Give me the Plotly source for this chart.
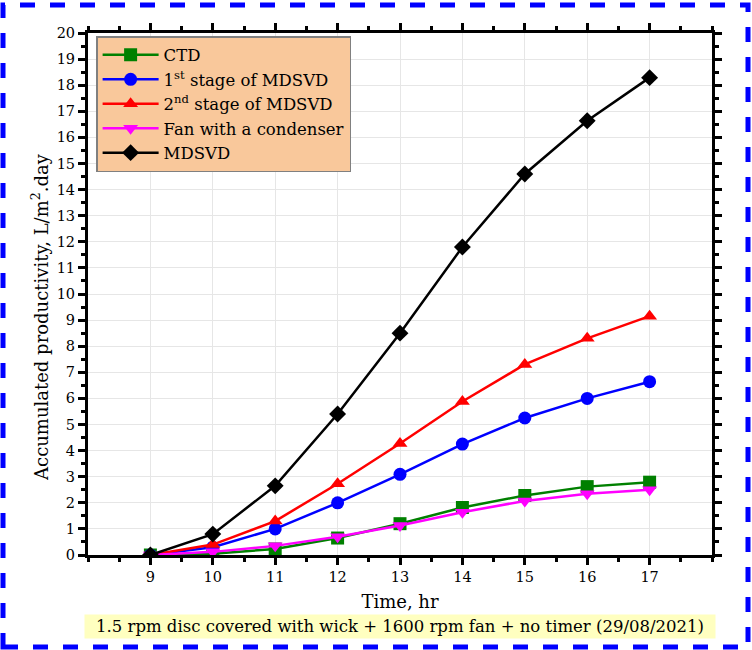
import plotly.graph_objects as go

hours = [9, 10, 11, 12, 13, 14, 15, 16, 17]

ctd = [0, 0.05, 0.23, 0.65, 1.2, 1.82, 2.28, 2.62, 2.79]
stage1 = [0, 0.3, 1.0, 2.0, 3.09, 4.25, 5.25, 6.0, 6.64]
stage2 = [0, 0.4, 1.3, 2.73, 4.27, 5.88, 7.3, 8.3, 9.15]
fan_cond = [0, 0.12, 0.35, 0.7, 1.13, 1.64, 2.07, 2.35, 2.5]
mdsvd = [0, 0.8, 2.65, 5.4, 8.5, 11.8, 14.6, 16.64, 18.29]

names = ["CTD", "1<sup>st</sup> stage of MDSVD", "2<sup>nd</sup> stage of MDSVD",
         "Fan with a condenser", "MDSVD"]
colors = ["#008000", "#0000FF", "#FF0000", "#FF00FF", "#000000"]
symbols = ["square", "circle", "triangle-up", "triangle-down", "diamond"]
series = [ctd, stage1, stage2, fan_cond, mdsvd]

font_family = "DejaVu Serif, Liberation Serif, serif"

fig = go.Figure()
for name, ys, color, sym in zip(names, series, colors, symbols):
    fig.add_trace(go.Scatter(
        x=hours, y=ys, name=name, mode="lines+markers",
        line=dict(color=color, width=2.5),
        marker=dict(symbol=sym, size=13, color=color),
    ))

axis_common = dict(
    showline=True, linecolor="black", linewidth=3, mirror="allticks",
    ticks="outside", ticklen=7, tickwidth=2.5, tickcolor="black",
    showgrid=True, gridcolor="#E6E6E6", gridwidth=1, zeroline=False,
    tickfont=dict(family=font_family, size=14.5, color="black"),
)

fig.update_xaxes(
    range=[8, 18], tickmode="array", tickvals=hours,
    minor=dict(dtick=0.5, tick0=8, ticks="outside", ticklen=4, tickwidth=2.5,
               tickcolor="black", showgrid=False),
    title=dict(text="Time, hr", font=dict(family=font_family, size=18, color="black"),
               standoff=11),
    **axis_common,
)
fig.update_yaxes(
    range=[0, 20], dtick=1, tick0=0,
    minor=dict(dtick=0.5, ticks="outside", ticklen=4, tickwidth=2.5,
               tickcolor="black", showgrid=False),
    **axis_common,
)

# y title placed a little below the axis centre, as in the original
fig.add_annotation(
    x=-0.077, y=0.456, xref="paper", yref="paper",
    xanchor="center", yanchor="middle", showarrow=False, textangle=-90,
    text="Accumulated productivity, L/m<sup>2</sup>.day",
    font=dict(family=font_family, size=18, color="black"),
)

fig.add_annotation(
    x=0.5, y=-0.137, xref="paper", yref="paper",
    xanchor="center", yanchor="middle", showarrow=False,
    text="1.5 rpm disc covered with wick + 1600 rpm fan + no timer (29/08/2021)",
    font=dict(family=font_family, size=16.5, color="black"),
    bgcolor="#FFFFC0", borderpad=2, width=626,
)

# dashed outer frame
fig.add_shape(
    type="rect", xref="paper", yref="paper",
    x0=-85 / 624, x1=1 + 36 / 624, y0=-92 / 522, y1=1 + 28 / 522,
    line=dict(color="#0000FF", width=5, dash="dash"),
)

fig.update_layout(
    width=752, height=650,
    margin=dict(l=88, r=40, t=33, b=95),
    plot_bgcolor="white", paper_bgcolor="white",
    font=dict(family=font_family, size=14, color="black"),
    legend=dict(
        x=0.013, y=0.994, xanchor="left", yanchor="top",
        bgcolor="#F9C89B", bordercolor="#808080", borderwidth=1.5,
        font=dict(family=font_family, size=16.5, color="black"),
        itemwidth=56, tracegroupgap=0,
    ),
)

fig.write_html("out.html", config={"displayModeBar": False},
               post_script="document.body.style.margin='0';")
